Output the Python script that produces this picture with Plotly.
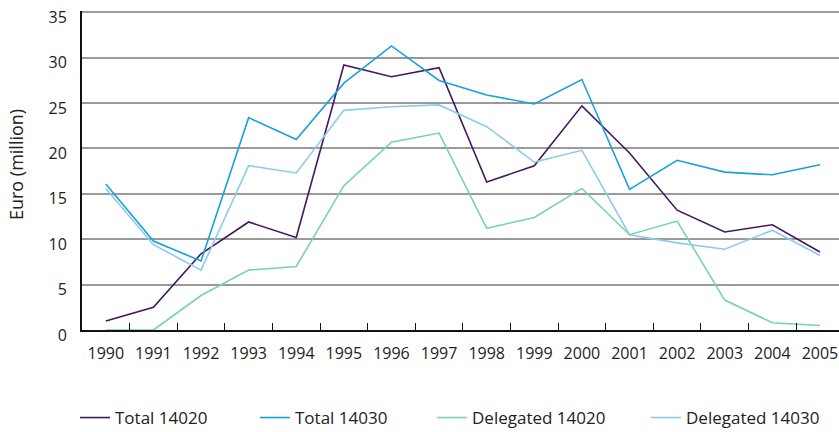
import plotly.graph_objects as go

years = [str(y) for y in range(1990, 2006)]
total_14020 = [1.0, 2.5, 8.4, 11.9, 10.2, 29.2, 27.9, 28.9, 16.3, 18.1, 24.7, 19.5, 13.2, 10.8, 11.6, 8.6]
total_14030 = [16.1, 9.8, 7.6, 23.4, 21.0, 27.2, 31.3, 27.5, 25.9, 24.9, 27.6, 15.5, 18.7, 17.4, 17.1, 18.2]
delegated_14020 = [0.0, 0.0, 3.8, 6.6, 7.0, 15.9, 20.7, 21.7, 11.2, 12.4, 15.6, 10.5, 12.0, 3.3, 0.8, 0.5]
delegated_14030 = [15.6, 9.4, 6.6, 18.1, 17.3, 24.2, 24.6, 24.8, 22.4, 18.5, 19.8, 10.5, 9.6, 8.9, 11.0, 8.2]
y_ticks = [0, 5, 10, 15, 20, 25, 30, 35]

series_names = ["Total 14020", "Total 14030", "Delegated 14020", "Delegated 14030"]
series_values = [total_14020, total_14030, delegated_14020, delegated_14030]
series_colors = ["#42185f", "#16a2dc", "#74d3b4", "#8ecbe9"]
legend_ids = ["legend", "legend2", "legend3", "legend4"]
legend_x = [75, 255, 432, 646]

FONT = "Open Sans"
TXT = "#222222"

fig = go.Figure()
for name, vals, col, lid in zip(series_names, series_values, series_colors, legend_ids):
    fig.add_trace(go.Scatter(x=years, y=vals, name=name, mode="lines",
                             line=dict(color=col, width=1.6), legend=lid))

legend_common = dict(orientation="h", xref="container", yref="container",
                     yanchor="top", y=1 - 400 / 432, xanchor="left",
                     font=dict(family=FONT, size=17, color=TXT),
                     bgcolor="rgba(0,0,0,0)")
legends = {}
for lid, lx in zip(legend_ids, legend_x):
    legends[lid] = dict(legend_common, x=lx / 839)

fig.update_layout(
    width=839, height=432,
    margin=dict(l=82, r=0, t=11, b=102, autoexpand=False),
    paper_bgcolor="white", plot_bgcolor="white",
    font=dict(family=FONT, size=16, color=TXT),
    showlegend=True,
    xaxis=dict(type="category", range=[-0.5, 15.4], tickson="boundaries",
               ticks="inside", ticklen=7, tickwidth=1.3, tickcolor="#111111",
               showline=True, linecolor="#111111", linewidth=1.8,
               showgrid=False, ticklabelstandoff=8, automargin=False,
               ticklabeloverflow="allow",
               tickfont=dict(family=FONT, size=16, color=TXT)),
    yaxis=dict(range=[0, 35.15], tickmode="array", tickvals=y_ticks,
               showgrid=True,
               gridcolor="#9a9a9a", gridwidth=1.5, zeroline=False,
               showline=True, linecolor="#111111", linewidth=1.8,
               ticks="", ticklabelstandoff=10, ticklabelshift=5, automargin=False,
               ticklabeloverflow="allow",
               tickfont=dict(family=FONT, size=16, color=TXT)),
    annotations=[dict(text="Euro (million)", textangle=-90, xref="paper", yref="paper",
                      x=0, xshift=-66, y=0.517,
                      showarrow=False, xanchor="center", yanchor="middle",
                      font=dict(family=FONT, size=18, color=TXT))],
    **legends,
)

fig.write_html("out.html", config={"displayModeBar": False},
               post_script="document.body.style.margin='0';")
